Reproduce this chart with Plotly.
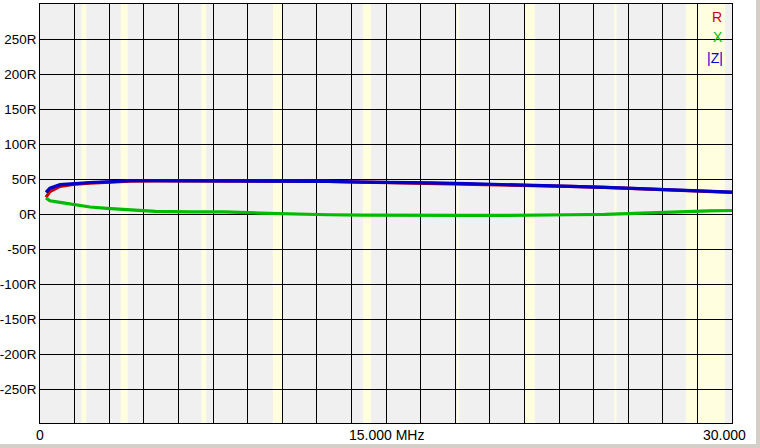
import plotly.graph_objects as go

# Frequency (MHz)
freq = [0.26, 0.43, 0.87, 1.43, 2.17, 2.9, 3.9, 5.0, 6.5, 8.0, 9.5, 11.0, 12.5, 14.0,
        15.5, 17.0, 18.5, 20.0, 21.5, 23.0, 24.5, 26.0, 27.5, 29.0, 30.0]
# Resistance R (ohm)
r_vals = [24, 32, 39.5, 42.3, 44, 45.5, 47, 47.3, 47.4, 47.4, 47.4, 47.0, 46.5, 45.5,
          45.4, 44.4, 43.4, 42.4, 40.9, 39.4, 38.0, 36.0, 34.4, 32.2, 31.0]
# Reactance X (ohm)
x_vals = [23, 19, 16.6, 13.7, 10, 8, 6, 3.7, 3, 3, 1.4, 0, -1, -1.5,
          -2, -2, -2, -2, -2, -1, -0.5, 1.5, 3, 4.5, 5]
# Impedance magnitude |Z| (ohm)
z_vals = [31, 37, 42, 43.7, 45, 46, 47.5, 47.5, 47.5, 47.5, 47.5, 47, 46.5, 45.5,
          45.5, 44.5, 43.5, 42.5, 41, 39.5, 38, 36, 34.5, 32.5, 31.4]

# Amateur bands (MHz)
band_start = [1.8, 3.5, 7.0, 10.1, 14.0, 18.068, 21.0, 24.89, 28.0]
band_end = [2.0, 3.8, 7.2, 10.5, 14.35, 18.168, 21.45, 24.99, 29.7]

y_tick_vals = [250, 200, 150, 100, 50, 0, -50, -100, -150, -200, -250]
y_tick_text = ["250R", "200R", "150R", "100R", "50R", "0R", "-50R", "-100R",
               "-150R", "-200R", "-250R"]
x_label_vals = [0, 15, 30]
x_label_text = ["0", "15.000 MHz", "30.000"]

series_names = ["R", "X", "|Z|"]
colors = ["#cc0000", "#00bb00", "#0000cc"]

FONT = "Liberation Sans, Arial, sans-serif"

fig = go.Figure()
for name, vals, col in zip(series_names, [r_vals, x_vals, z_vals], colors):
    fig.add_trace(go.Scatter(x=freq, y=vals, mode="lines", name=name,
                             line=dict(color=col, width=3.2), hoverinfo="skip"))

shapes = []
for a, b in zip(band_start, band_end):
    shapes.append(dict(type="rect", xref="x", yref="paper", x0=a, x1=b, y0=0, y1=1,
                       fillcolor="#ffffe0", line=dict(width=0), layer="below"))
# window frame strips (right and bottom)
shapes.append(dict(type="rect", xref="paper", yref="paper",
                   x0=(756 - 40) / 692, x1=(762 - 40) / 692, y0=-0.08, y1=1.02,
                   fillcolor="#d4d0c8", line=dict(width=0), layer="above"))
shapes.append(dict(type="rect", xref="paper", yref="paper",
                   x0=-0.07, x1=(762 - 40) / 692, y0=(423 - 444) / 419, y1=(423 - 450) / 419,
                   fillcolor="#d4d0c8", line=dict(width=0), layer="above"))

annotations = []
anchors = ["center", "center", "right"]
shifts = [0, 0, 16]
for v, t, anc, sh in zip(x_label_vals, x_label_text, anchors, shifts):
    annotations.append(dict(x=v, y=0, xref="x", yref="paper", text=t, showarrow=False,
                            xanchor=anc, yanchor="top", xshift=sh, yshift=-2,
                            font=dict(family=FONT, size=14, color="#000000")))
leg_y = [282, 253.5, 223]
leg_x = [29.35, 29.38, 29.28]
for name, col, lx, ly in zip(series_names, colors, leg_x, leg_y):
    annotations.append(dict(x=lx, y=ly, xref="x", yref="y", text=name, showarrow=False,
                            xanchor="center", yanchor="middle",
                            font=dict(family=FONT, size=14, color=col)))

fig.update_layout(
    width=760, height=448,
    margin=dict(l=40, r=28, t=4, b=25, autoexpand=False),
    paper_bgcolor="#ffffff",
    plot_bgcolor="#f0f0f0",
    showlegend=False,
    hovermode=False,
    shapes=shapes,
    annotations=annotations,
    xaxis=dict(range=[0, 30], dtick=1.5, tick0=0, showgrid=True, gridcolor="#000000",
               gridwidth=1, showticklabels=False, zeroline=False, showline=True,
               linecolor="#000000", linewidth=1, mirror=True, ticks="", automargin=False),
    yaxis=dict(range=[-298.5, 300], tickvals=y_tick_vals, ticktext=y_tick_text,
               showgrid=True, gridcolor="#000000", gridwidth=1, zeroline=False,
               showline=True, linecolor="#000000", linewidth=1, mirror=True, ticks="",
               automargin=False, ticklabelstandoff=0,
               tickfont=dict(family=FONT, size=13.4, color="#000000")),
)

fig.write_html("out.html", config={"displayModeBar": False, "staticPlot": True},
               post_script="document.body.style.margin='0';document.body.style.overflow='hidden';")
